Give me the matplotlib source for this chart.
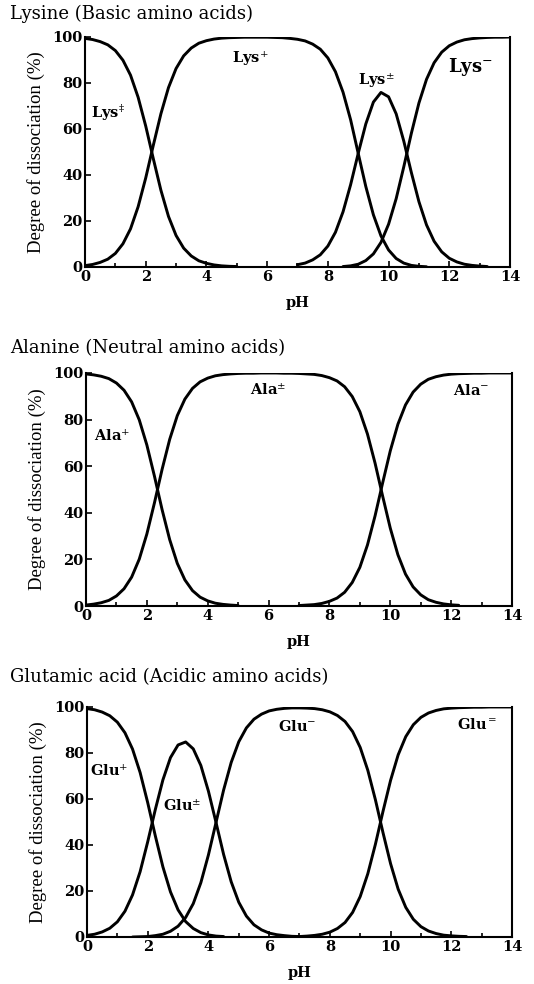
"""
Degree of dissociation of basic, neutral and acidic amino acids vs pH
"""

import numpy as np
import matplotlib

matplotlib.use("Agg")
import matplotlib.pyplot as plt

nan = np.nan

# pH grid shared by every curve (0 to 14, every 0.25)
ph = np.arange(0, 14.001, 0.25)

# ---- Lysine (values in %, nan = not drawn)
lys_2p = [99.4, 98.9, 98.0, 96.6, 94.1, 89.9, 83.4, 73.8,
          61.3, 47.1, 33.4, 22.0, 13.7, 8.2, 4.8, 2.7,
          1.6, 0.9, 0.5, 0.3, 0.2, nan, nan, nan,
          nan, nan, nan, nan, nan, nan, nan, nan,
          nan, nan, nan, nan, nan, nan, nan, nan,
          nan, nan, nan, nan, nan, nan, nan, nan,
          nan, nan, nan, nan, nan, nan, nan, nan,
          nan]
lys_p = [0.6, 1.1, 2.0, 3.4, 5.9, 10.1, 16.6, 26.2,
         38.7, 52.9, 66.6, 78.0, 86.3, 91.8, 95.2, 97.3,
         98.4, 99.1, 99.5, 99.7, 99.8, 99.9, 99.9, 99.9,
         99.9, 99.8, 99.7, 99.4, 99.0, 98.3, 96.9, 94.7,
         90.9, 84.9, 76.0, 64.0, 49.4, 35.0, 22.7, 13.5,
         7.4, 3.7, 1.7, 0.7, 0.3, 0.1, nan, nan,
         nan, nan, nan, nan, nan, nan, nan, nan,
         nan]
lys_pm = [nan, nan, nan, nan, nan, nan, nan, nan,
          nan, nan, nan, nan, nan, nan, nan, nan,
          nan, nan, nan, nan, nan, nan, nan, nan,
          nan, nan, nan, nan, 1.0, 1.7, 3.1, 5.3,
          9.1, 15.1, 24.0, 35.8, 49.4, 62.2, 71.7, 75.9,
          74.0, 66.6, 54.8, 41.1, 28.4, 18.3, 11.2, 6.6,
          3.8, 2.2, 1.2, 0.7, 0.4, 0.2, nan, nan,
          nan]
lys_m = [nan, nan, nan, nan, nan, nan, nan, nan,
         nan, nan, nan, nan, nan, nan, nan, nan,
         nan, nan, nan, nan, nan, nan, nan, nan,
         nan, nan, nan, nan, nan, nan, nan, nan,
         nan, nan, 0.2, 0.5, 1.2, 2.8, 5.7, 10.7,
         18.6, 29.7, 43.5, 58.1, 71.3, 81.6, 88.8, 93.4,
         96.2, 97.8, 98.8, 99.3, 99.6, 99.8, 99.9, 99.9,
         100.0]

# ---- Alanine
ala_p = [99.6, 99.2, 98.6, 97.6, 95.7, 92.6, 87.6, 79.9,
         69.1, 55.7, 41.4, 28.5, 18.3, 11.2, 6.6, 3.8,
         2.2, 1.2, 0.7, 0.4, 0.2, nan, nan, nan,
         nan, nan, nan, nan, nan, nan, nan, nan,
         nan, nan, nan, nan, nan, nan, nan, nan,
         nan, nan, nan, nan, nan, nan, nan, nan,
         nan, nan, nan, nan, nan, nan, nan, nan,
         nan]
ala_pm = [0.4, 0.8, 1.4, 2.4, 4.3, 7.4, 12.4, 20.1,
          30.9, 44.3, 58.6, 71.5, 81.7, 88.8, 93.4, 96.2,
          97.8, 98.8, 99.3, 99.6, 99.8, 99.9, 99.9, 100.0,
          100.0, 100.0, 99.9, 99.9, 99.8, 99.6, 99.4, 98.9,
          98.0, 96.6, 94.1, 89.9, 83.4, 73.8, 61.3, 47.1,
          33.4, 22.0, 13.7, 8.2, 4.8, 2.7, 1.6, 0.9,
          0.5, 0.3, nan, nan, nan, nan, nan, nan,
          nan]
ala_m = [nan, nan, nan, nan, nan, nan, nan, nan,
         nan, nan, nan, nan, nan, nan, nan, nan,
         nan, nan, nan, nan, nan, nan, nan, nan,
         nan, nan, nan, nan, 0.2, 0.4, 0.6, 1.1,
         2.0, 3.4, 5.9, 10.1, 16.6, 26.2, 38.7, 52.9,
         66.6, 78.0, 86.3, 91.8, 95.2, 97.3, 98.4, 99.1,
         99.5, 99.7, 99.8, 99.9, 99.9, 100.0, 100.0, 100.0,
         100.0]

# ---- Glutamic acid
glu_p = [99.3, 98.8, 97.8, 96.2, 93.4, 88.8, 81.7, 71.5,
         58.4, 44.0, 30.5, 19.6, 11.8, 6.7, 3.7, 1.9,
         0.9, 0.4, 0.2, nan, nan, nan, nan, nan,
         nan, nan, nan, nan, nan, nan, nan, nan,
         nan, nan, nan, nan, nan, nan, nan, nan,
         nan, nan, nan, nan, nan, nan, nan, nan,
         nan, nan, nan, nan, nan, nan, nan, nan,
         nan]
glu_pm = [0.7, 1.2, 2.2, 3.8, 6.6, 11.2, 18.3, 28.4,
          41.4, 55.4, 68.3, 78.0, 83.5, 84.8, 81.8, 74.6,
          63.4, 49.8, 35.9, 24.0, 15.1, 9.1, 5.3, 3.1,
          1.7, 1.0, 0.6, 0.3, 0.2, nan, nan, nan,
          nan, nan, nan, nan, nan, nan, nan, nan,
          nan, nan, nan, nan, nan, nan, nan, nan,
          nan, nan, nan, nan, nan, nan, nan, nan,
          nan]
glu_m = [nan, nan, nan, nan, nan, nan, 0.0, 0.1,
         0.2, 0.6, 1.2, 2.5, 4.7, 8.5, 14.5, 23.6,
         35.7, 49.8, 63.9, 75.9, 84.9, 90.9, 94.7, 96.9,
         98.3, 99.0, 99.4, 99.6, 99.6, 99.5, 99.3, 98.8,
         97.9, 96.3, 93.7, 89.3, 82.4, 72.5, 59.7, 45.4,
         31.9, 20.8, 12.9, 7.7, 4.5, 2.6, 1.5, 0.8,
         0.5, 0.3, 0.2, nan, nan, nan, nan, nan,
         nan]
glu_mm = [nan, nan, nan, nan, nan, nan, nan, nan,
          nan, nan, nan, nan, nan, nan, nan, nan,
          nan, nan, nan, nan, nan, nan, nan, nan,
          nan, nan, 0.05, 0.1, 0.2, 0.4, 0.7, 1.2,
          2.1, 3.7, 6.3, 10.7, 17.6, 27.5, 40.3, 54.6,
          68.1, 79.2, 87.1, 92.3, 95.5, 97.4, 98.5, 99.2,
          99.5, 99.7, 99.8, 99.9, 99.9, 100.0, 100.0, 100.0,
          100.0]

titles = ["Lysine (Basic amino acids)",
          "Alanine (Neutral amino acids)",
          "Glutamic acid (Acidic amino acids)"]
curves = [[lys_2p, lys_p, lys_pm, lys_m],
          [ala_p, ala_pm, ala_m],
          [glu_p, glu_pm, glu_m, glu_mm]]
# species labels: (text, pH, %, fontsize)
labels = [[(r"Lys$^{\ddag}$", 0.2, 67, 10.5),
           (r"Lys$^{+}$", 4.85, 91, 10.5),
           (r"Lys$^{\pm}$", 9.0, 81, 10.5),
           (r"Lys$^{-}$", 11.95, 87, 13)],
          [(r"Ala$^{+}$", 0.25, 73, 10.5),
           (r"Ala$^{\pm}$", 5.4, 92.5, 10.5),
           (r"Ala$^{-}$", 12.05, 92.5, 10.5)],
          [(r"Glu$^{+}$", 0.1, 72.5, 10.5),
           (r"Glu$^{\pm}$", 2.5, 57, 10.5),
           (r"Glu$^{-}$", 6.3, 91.5, 10.5),
           (r"Glu$^{=}$", 12.2, 92.5, 10.5)]]

plt.rcParams["font.family"] = ["DejaVu Serif"]
plt.rcParams["mathtext.fontset"] = "dejavuserif"

W, H = 534, 984
fig = plt.figure(figsize=(W / 100, H / 100), dpi=100)

# axes boxes in pixels: left, right, top, bottom
boxes = [(85, 510, 37, 267), (86, 512, 373, 606), (87, 512, 707, 937)]
title_y = [14, 348, 677]

for i in range(3):
    l, r, t, b = boxes[i]
    ax = fig.add_axes([l / W, 1 - b / H, (r - l) / W, (b - t) / H])

    for c in curves[i]:
        ax.plot(ph, c, color="black", lw=2.1, solid_capstyle="round")

    for txt, x, y, fs in labels[i]:
        ax.text(x, y, txt, fontsize=fs, fontweight="bold", ha="left",
                va="center")

    ax.set_xlim(0, 14)
    ax.set_ylim(0, 100)
    ax.set_xticks(range(0, 15, 2))
    ax.set_xticks(range(1, 14, 2), minor=True)
    ax.set_yticks(range(0, 101, 20))
    ax.tick_params(direction="in", length=4, width=1.2, labelsize=10.5,
                   pad=2)
    ax.tick_params(which="minor", direction="in", length=3, width=1.2)
    for lab in ax.get_xticklabels() + ax.get_yticklabels():
        lab.set_fontweight("bold")

    ax.spines["top"].set_visible(False)
    for s in ["left", "bottom", "right"]:
        ax.spines[s].set_linewidth(1.5)

    ax.set_xlabel("pH", fontsize=10.5, fontweight="bold", labelpad=9)
    ax.set_ylabel("Degree of dissociation (%)", fontsize=13.5,
                  family="Liberation Serif", labelpad=5)

    fig.text(10 / W, 1 - title_y[i] / H, titles[i], fontsize=13,
             ha="left", va="center")

plt.savefig("out.png", dpi=100)
plt.close()
